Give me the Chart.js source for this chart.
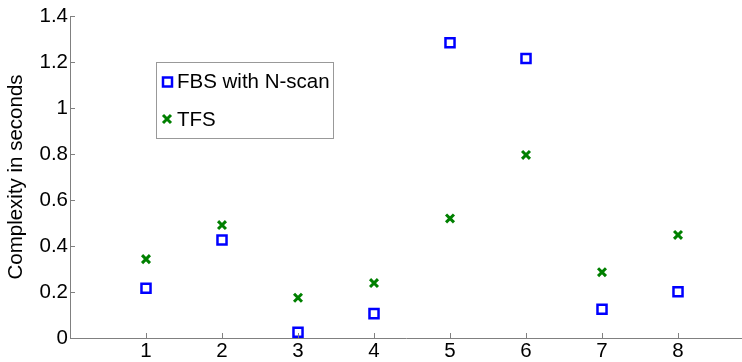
<!DOCTYPE html>
<html>
<head>
<meta charset="utf-8">
<script src="https://cdn.jsdelivr.net/npm/chart.js@4/dist/chart.umd.min.js"></script>
<style>
  html, body { margin: 0; padding: 0; background: #fff; overflow: hidden; }
  #wrap { width: 742px; height: 362px; }
</style>
</head>
<body>
<div id="wrap"><canvas id="c" width="742" height="362"></canvas></div>
<script>
// valores
const xValues = [1, 2, 3, 4, 5, 6, 7, 8];
const fbsValues = [0.216, 0.426, 0.025, 0.106, 1.284, 1.215, 0.125, 0.201];
const tfsValues = [0.343, 0.491, 0.175, 0.239, 0.520, 0.796, 0.286, 0.448];
const xTicks = [1, 2, 3, 4, 5, 6, 7, 8];
const yTicks = [0, 0.2, 0.4, 0.6, 0.8, 1, 1.2, 1.4];
const yTickLabels = ['0', '0.2', '0.4', '0.6', '0.8', '1', '1.2', '1.4'];
const seriesNames = ['FBS with N-scan', 'TFS'];
const yTitle = 'Complexity in seconds';

const FONT = 'Liberation Sans, Arial, sans-serif';
const AXIS_GRAY = '#808080';
const BLUE = '#0000ff';
const GREEN = '#008000';

// marcas de eje hacia dentro (estilo MATLAB)
const inwardTicks = {
    id: 'inwardTicks',
    afterDraw(chart) {
        const { ctx, chartArea, scales } = chart;
        ctx.save();
        ctx.strokeStyle = AXIS_GRAY;
        ctx.lineWidth = 1;
        ctx.beginPath();
        xTicks.forEach(v => {
            const px = Math.round(scales.x.getPixelForValue(v)) + 0.5;
            ctx.moveTo(px, chartArea.bottom);
            ctx.lineTo(px, chartArea.bottom - 5);
        });
        yTicks.forEach(v => {
            const py = Math.round(scales.y.getPixelForValue(v)) + 0.5;
            ctx.moveTo(chartArea.left, py);
            ctx.lineTo(chartArea.left + 5, py);
        });
        ctx.stroke();
        ctx.restore();
    }
};

// leyenda dentro del área del gráfico
const boxLegend = {
    id: 'boxLegend',
    afterDraw(chart) {
        const ctx = chart.ctx;
        ctx.save();
        ctx.fillStyle = '#fff';
        ctx.fillRect(156, 62, 177, 76);
        ctx.strokeStyle = '#999';
        ctx.lineWidth = 1;
        ctx.strokeRect(156.5, 62.5, 177, 76);

        // cuadrado azul
        ctx.strokeStyle = BLUE;
        ctx.lineWidth = 2.5;
        ctx.strokeRect(163, 77.5, 9, 9);
        // cruz verde
        ctx.strokeStyle = GREEN;
        ctx.lineWidth = 3;
        ctx.beginPath();
        ctx.moveTo(163, 115); ctx.lineTo(171, 123);
        ctx.moveTo(171, 115); ctx.lineTo(163, 123);
        ctx.stroke();

        ctx.fillStyle = '#000';
        ctx.font = '20.5px ' + FONT;
        ctx.textBaseline = 'middle';
        ctx.textAlign = 'left';
        ctx.fillText(seriesNames[0], 177, 82.5);
        ctx.fillText(seriesNames[1], 177, 120);
        ctx.restore();
    }
};

const ctx = document.getElementById('c').getContext('2d');
new Chart(ctx, {
    type: 'scatter',
    data: {
        datasets: [
            {
                label: seriesNames[0],
                data: xValues.map((x, i) => ({ x: x, y: fbsValues[i] })),
                pointStyle: 'rect',
                pointRadius: 6.4,
                pointBorderWidth: 2.5,
                borderColor: BLUE,
                backgroundColor: 'rgba(0,0,0,0)',
                showLine: false,
            },
            {
                label: seriesNames[1],
                data: xValues.map((x, i) => ({ x: x, y: tfsValues[i] })),
                pointStyle: 'crossRot',
                pointRadius: 5.6,
                pointBorderWidth: 3,
                borderColor: GREEN,
                backgroundColor: GREEN,
                showLine: false,
            },
        ],
    },
    options: {
        responsive: false,
        animation: false,
        devicePixelRatio: 1,
        layout: { autoPadding: false, padding: { top: 16, right: 0, left: 0, bottom: 0 } },
        plugins: {
            legend: { display: false },
            tooltip: { enabled: false },
        },
        scales: {
            x: {
                type: 'linear',
                min: 0,
                max: 8.842,
                afterBuildTicks: scale => { scale.ticks = xTicks.map(v => ({ value: v })); },
                afterFit: scale => {
                    scale.height = 24;
                    scale.paddingRight = 0;
                    scale.paddingLeft = 0;
                },
                border: { display: true, color: AXIS_GRAY, width: 1 },
                grid: { drawOnChartArea: false, drawTicks: false },
                ticks: {
                    color: '#000',
                    padding: 1,
                    maxRotation: 0,
                    autoSkip: false,
                    font: { family: FONT, size: 20.5 },
                    callback: v => String(v),
                },
            },
            y: {
                min: 0,
                max: 1.4,
                afterBuildTicks: scale => { scale.ticks = yTicks.map(v => ({ value: v })); },
                afterFit: scale => { scale.width = 70; },
                border: { display: true, color: AXIS_GRAY, width: 1 },
                grid: { drawOnChartArea: false, drawTicks: false },
                ticks: {
                    color: '#000',
                    padding: 2,
                    autoSkip: false,
                    font: { family: FONT, size: 20.5 },
                    callback: v => yTickLabels[yTicks.indexOf(v)],
                },
                title: {
                    display: true,
                    text: yTitle,
                    color: '#000',
                    padding: { top: 4, bottom: 0 },
                    font: { family: FONT, size: 20.5 },
                },
            },
        },
    },
    plugins: [inwardTicks, boxLegend],
});
</script>
</body>
</html>
